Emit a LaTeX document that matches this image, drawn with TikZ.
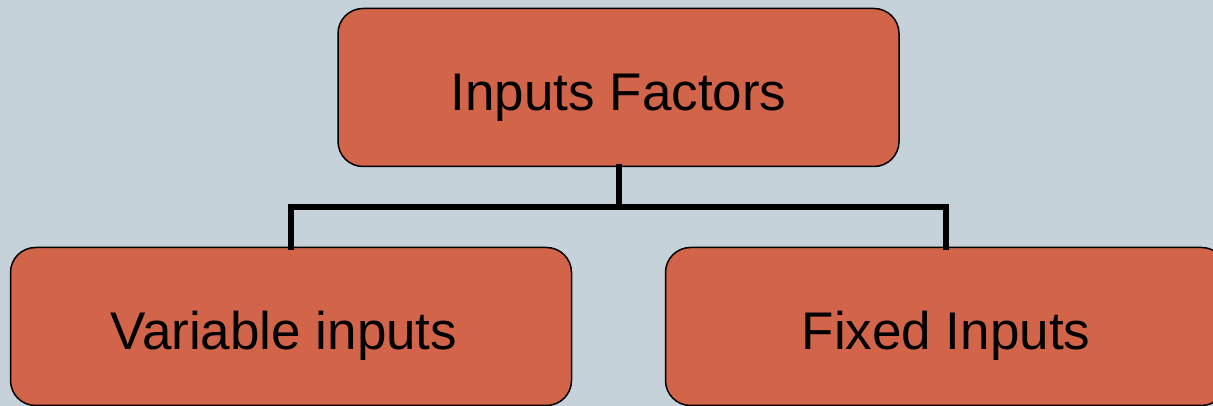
\documentclass[tikz,border=0pt]{standalone}
\usepackage{fontspec}
\setmainfont{Liberation Sans}
\usetikzlibrary{calc}
\definecolor{slatebg}{HTML}{C6D2D9}
\definecolor{brick}{HTML}{D2644A}
\tikzset{
  factorbox/.style={draw=black, line width=1.5pt, fill=brick, rounded corners=25pt,
    minimum width=561pt, minimum height=158pt, inner sep=0pt,
    text height=50pt, text depth=3pt,
    font=\fontsize{53}{60}\selectfont},
  branch/.style={line width=6pt, line cap=rect}
}

\begin{document}
\begin{tikzpicture}[x=1pt,y=1pt]
			%%%%% START %%%%%
			
			\useasboundingbox (0,0) rectangle (1213,406);
			\clip (0,0) rectangle (1213,406);
			\fill[slatebg] (0,0) rectangle (1213,406);
			
			\node[factorbox] (inputs) at (618.5,318.5) {Inputs Factors};
			\node[factorbox] (variable) at (291,79.5) {\hspace*{-14pt}Variable inputs};
			\node[factorbox] (fixed) at (946,79.5) {Fixed Inputs};
			
			\coordinate (joint) at ($(inputs.south)+(0,-40)$);
			\draw[branch] (inputs.south) -- (joint) -| (variable.north);
			\draw[branch] (joint) -| (fixed.north);
			
			%%%%% END %%%%%
\end{tikzpicture}
\end{document}
